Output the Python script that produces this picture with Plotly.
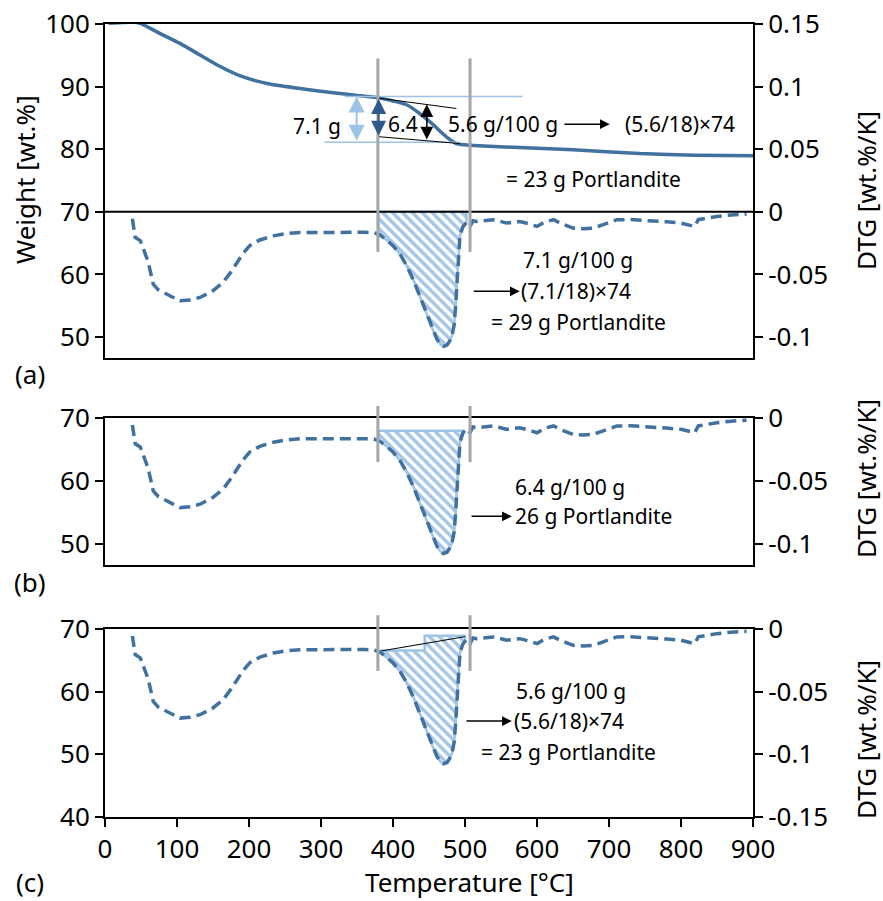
import numpy as np
import plotly.graph_objects as go

# ---------------- data ----------------
TG_T = [5, 20, 39, 49, 76, 104, 132, 160, 188, 225, 271, 317, 350, 380, 400, 419, 437, 456, 465,
        475, 488, 500, 512, 567, 650, 743, 820, 900]
TG_W = [100.1, 100.2, 100.3, 100.1, 98.5, 96.9, 95.05, 93.2, 91.7, 90.5, 89.7, 89.0, 88.6, 88.2,
        87.7, 87.1, 85.7, 83.9, 82.9, 81.9, 80.9, 80.7, 80.6, 80.3, 79.9, 79.3, 79.05, 78.95]

DTG_T = [38, 42, 49, 60, 67, 74, 90, 104, 118, 132, 150, 164, 175, 183, 192, 201, 215, 234, 250,
         271, 300, 330, 360, 373, 382, 391, 400, 410, 419, 428, 437, 444, 451, 456, 461, 466, 470,
         475, 479, 482, 485, 487, 488.5, 490, 491.5, 493, 497, 502, 507, 511, 516, 527, 539, 548,
         558, 567, 576, 588, 600, 611, 623, 632, 641, 650, 664, 678, 688, 697, 711, 730, 757, 780,
         800, 812, 819, 824, 835, 850, 870, 891]
DTG_V = [-0.0056, -0.0205, -0.023, -0.040, -0.0578, -0.0623, -0.067, -0.0711, -0.0705, -0.0684,
         -0.063, -0.0564, -0.048, -0.0404, -0.033, -0.027, -0.0225, -0.0192, -0.0175, -0.0165,
         -0.0163, -0.0163, -0.0164, -0.0166, -0.0184, -0.0225, -0.027, -0.034, -0.043, -0.054,
         -0.067, -0.077, -0.088, -0.095, -0.1017, -0.106, -0.1075, -0.1065, -0.103, -0.099,
         -0.090, -0.075, -0.058, -0.042, -0.030, -0.019, -0.012, -0.0085, -0.0117, -0.0072,
         -0.0077, -0.0068, -0.0063, -0.0075, -0.009, -0.0082, -0.0077, -0.0095, -0.0117, -0.008,
         -0.0063, -0.009, -0.011, -0.013, -0.0135, -0.013, -0.011, -0.009, -0.0063, -0.0062,
         -0.007, -0.008, -0.009, -0.0103, -0.0117, -0.0063, -0.005, -0.0037, -0.0025, -0.0018]

X_TICKS = [0, 100, 200, 300, 400, 500, 600, 700, 800, 900]

# integration windows / baselines (DTG units)
WIN = [379, 507]
A_BASE = ([380, 502], [0.0, 0.0])
B_BASE = ([380, 498], [-0.0101, -0.0101])
C_BASE = ([382, 444, 444, 500], [-0.0172, -0.0172, -0.0053, -0.0053])

# ---------------- style ----------------
FONT = "Noto Sans"
CURVE = "#41719f"
HATCH = "#4a8bcf"
LIGHT = "#9dc3e6"
DARK = "#2e5a8a"
GREY = "#a6a6a6"

W, H = 883, 901
ML, MR, MT, MB = 105, 130, 24, 84
PW, PH = W - ML - MR, H - MT - MB


def px(xp):
    return (xp - ML) / PW


def py(yp):
    return (H - MB - yp) / PH


A_RANGE = [46.6, 100]
B_RANGE = [46.67, 70]
C_RANGE = [40, 70]


def right_range(r):
    return [(r[0] - 70) * 0.005, (r[1] - 70) * 0.005]


def dom(v, r):
    return (v - r[0]) / (r[1] - r[0])


def hatch_poly(base):
    bx, by = base
    t0, t1 = bx[0], bx[-1]
    t = np.array(DTG_T, float)
    v = np.array(DTG_V, float)
    inner = (t > t0) & (t < t1)
    cx = [t1] + list(t[inner][::-1]) + [t0]
    cy = [float(np.interp(t1, t, v))] + list(v[inner][::-1]) + [float(np.interp(t0, t, v))]
    return list(bx) + cx + [bx[0]], list(by) + cy + [by[0]]


fig = go.Figure()

for base, xa, ya in [(A_BASE, "x", "y2"), (B_BASE, "x2", "y4"), (C_BASE, "x3", "y6")]:
    hx, hy = hatch_poly(base)
    fig.add_trace(go.Scatter(x=hx, y=hy, mode="lines", fill="toself",
                             fillpattern=dict(shape="\\", fgcolor=HATCH, bgcolor="white",
                                              size=7, solidity=0.5),
                             fillcolor="white",
                             line=dict(color=LIGHT, width=2.5), xaxis=xa, yaxis=ya,
                             showlegend=False, hoverinfo="skip"))

for xa, ya in [("x", "y2"), ("x2", "y4"), ("x3", "y6")]:
    fig.add_trace(go.Scatter(x=DTG_T, y=DTG_V, mode="lines",
                             line=dict(color=CURVE, width=3.5, dash="11px,6px"),
                             xaxis=xa, yaxis=ya, showlegend=False))

fig.add_trace(go.Scatter(x=TG_T, y=TG_W, mode="lines",
                         line=dict(color=CURVE, width=3.5, shape="spline", smoothing=0.6),
                         xaxis="x", yaxis="y", showlegend=False))

tickfont = dict(family=FONT, size=26, color="black")
axcommon = dict(showline=True, linecolor="black", linewidth=2, showgrid=False, zeroline=False,
                tickfont=tickfont, ticklen=8, tickwidth=1.5, tickcolor="black", automargin=False)


def rtext(vals):
    return [("%g" % v) for v in vals]


layout = dict(
    width=W, height=H, margin=dict(l=ML, r=MR, t=MT, b=MB, autoexpand=False),
    plot_bgcolor="white", paper_bgcolor="white", showlegend=False,
    font=dict(family=FONT, color="black"),
    xaxis=dict(domain=[0, 1], anchor="y", range=[0, 900], mirror=True, showticklabels=False,
               ticks="", **axcommon),
    xaxis2=dict(domain=[0, 1], anchor="y3", range=[0, 900], matches="x", mirror=True,
                showticklabels=False, ticks="", **axcommon),
    xaxis3=dict(domain=[0, 1], anchor="y5", range=[0, 900], matches="x", mirror=True,
                tickvals=X_TICKS, ticktext=[str(v) for v in X_TICKS], ticks="outside", **axcommon),
    yaxis=dict(domain=[py(358.3), 1], anchor="x", range=A_RANGE, mirror=True,
               tickvals=[50, 60, 70, 80, 90, 100], ticks="outside", **axcommon),
    yaxis2=dict(overlaying="y", side="right", anchor="x", range=right_range(A_RANGE),
                tickvals=[-0.1, -0.05, 0, 0.05, 0.1, 0.15],
                ticktext=rtext([-0.1, -0.05, 0, 0.05, 0.1, 0.15]), ticks="outside", **axcommon),
    yaxis3=dict(domain=[py(565), py(418)], anchor="x2", range=B_RANGE, mirror=True,
                tickvals=[50, 60, 70], ticks="outside", **axcommon),
    yaxis4=dict(overlaying="y3", side="right", anchor="x2", range=right_range(B_RANGE),
                tickvals=[-0.1, -0.05, 0], ticktext=rtext([-0.1, -0.05, 0]), ticks="outside",
                **axcommon),
    yaxis5=dict(domain=[0, py(629)], anchor="x3", range=C_RANGE, mirror=True,
                tickvals=[40, 50, 60, 70], ticks="outside", **axcommon),
    yaxis6=dict(overlaying="y5", side="right", anchor="x3", range=right_range(C_RANGE),
                tickvals=[-0.15, -0.1, -0.05, 0], ticktext=rtext([-0.15, -0.1, -0.05, 0]),
                ticks="outside", **axcommon),
)
fig.update_layout(**layout)

shapes = []
# zero line in panel (a)
shapes.append(dict(type="line", xref="x domain", x0=0, x1=1, yref="y", y0=70, y1=70,
                   line=dict(color="black", width=2)))
# light blue level lines in (a)
shapes.append(dict(type="line", xref="x", yref="y", x0=333, x1=580, y0=88.4, y1=88.4,
                   line=dict(color=LIGHT, width=1.5)))
shapes.append(dict(type="line", xref="x", yref="y", x0=305, x1=493, y0=81.1, y1=81.1,
                   line=dict(color=LIGHT, width=1.5)))
# black tangent lines in (a)
shapes.append(dict(type="line", xref="x", yref="y", x0=378, x1=488, y0=88.2, y1=86.5,
                   line=dict(color="black", width=1)))
shapes.append(dict(type="line", xref="x", yref="y", x0=380, x1=493, y0=82.0, y1=80.9,
                   line=dict(color="black", width=1)))
# tangent in (c)
shapes.append(dict(type="line", xref="x3", yref="y6", x0=384, x1=500, y0=-0.0175, y1=-0.0061,
                   line=dict(color="black", width=1)))
# grey window lines
for xr, yref, rng, lo, hi in [("x", "y domain", A_RANGE, 63.6, 94.5),
                              ("x2", "y3 domain", B_RANGE, 63.0, 71.9),
                              ("x3", "y5 domain", C_RANGE, 63.3, 72.2)]:
    for t in WIN:
        shapes.append(dict(type="line", xref=xr, yref=yref, x0=t, x1=t,
                           y0=dom(lo, rng), y1=dom(hi, rng), line=dict(color=GREY, width=3)))
fig.update_layout(shapes=shapes)

ann = []
TF = dict(family=FONT, size=21, color="black")


def text(x, y, s, xref, yref, xanchor="center"):
    ann.append(dict(x=x, y=y, xref=xref, yref=yref, text=s, showarrow=False, font=TF,
                    xanchor=xanchor, yanchor="middle"))


def arrow(x0, x1, y0, y1, xref, yref, color="black", both=False, width=1.5, size=1.3):
    d = dict(x=x1, y=y1, ax=x0, ay=y0, xref=xref, yref=yref, axref=xref, ayref=yref, text="",
             showarrow=True, arrowhead=2, arrowsize=size, arrowwidth=width, arrowcolor=color,
             standoff=0, startstandoff=0)
    if both:
        d.update(arrowside="end+start", startarrowhead=2, startarrowsize=size)
    ann.append(d)


# panel (a)
arrow(349.5, 349.5, 81.1, 88.4, "x", "y", color=LIGHT, both=True, width=2, size=1.6)
arrow(380, 380, 81.9, 88.0, "x", "y", color=DARK, both=True, width=2, size=1.5)
arrow(447, 447, 81.3, 87.2, "x", "y", color="black", both=True, width=1.5, size=1.7)
text(330.6, 83.7, "7.1 g", "x", "y", "right")
text(390, 84.0, "6.4", "x", "y", "left")
text(473, 84.0, "5.6 g/100 g", "x", "y", "left")
arrow(636, 701, 84.0, 84.0, "x", "y")
text(720, 84.0, "(5.6/18)×74", "x", "y", "left")
text(679, 75.2, "= 23 g Portlandite", "x", "y")
text(657, 62.3, "7.1 g/100 g", "x", "y")
arrow(510, 576, 57.3, 57.3, "x", "y")
text(575, 57.3, "(7.1/18)×74", "x", "y", "left")
text(658, 52.4, "= 29 g Portlandite", "x", "y")
# panel (b)
text(646, 59.05, "6.4 g/100 g", "x2", "y3")
arrow(507, 565, 54.4, 54.4, "x2", "y3")
text(566, 54.4, "26 g Portlandite", "x2", "y3", "left")
# panel (c)
text(647, 60.1, "5.6 g/100 g", "x3", "y5")
arrow(500, 565, 55.3, 55.3, "x3", "y5")
text(565, 55.3, "(5.6/18)×74", "x3", "y5", "left")
text(644, 50.4, "= 23 g Portlandite", "x3", "y5")

LF = dict(family=FONT, size=26, color="black")
for s, xp, yp, ang in [("(a)", 30, 374, 0), ("(b)", 30, 582, 0), ("(c)", 30, 882, 0),
                       ("Weight [wt.%]", 25, 180, -90), ("DTG [wt.%/K]", 866, 191, -90),
                       ("DTG [wt.%/K]", 866, 479, -90), ("DTG [wt.%/K]", 866, 740, -90),
                       ("Temperature [°C]", 470, 882, 0)]:
    ann.append(dict(x=px(xp), y=py(yp), xref="paper", yref="paper", text=s, showarrow=False,
                    font=LF, textangle=ang, xanchor="center", yanchor="middle"))

fig.update_layout(annotations=ann)
fig.write_html("out.html")
